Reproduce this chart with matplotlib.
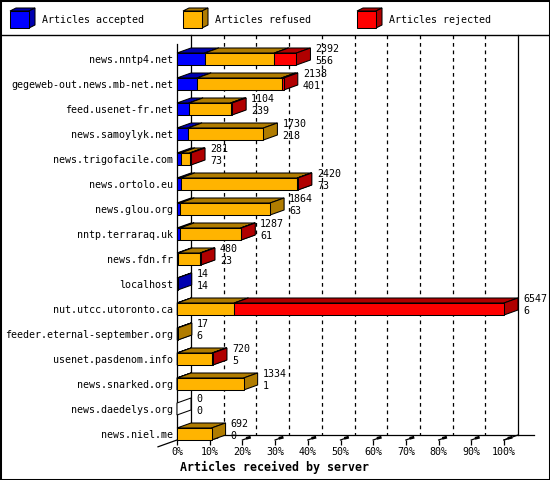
import matplotlib
matplotlib.use("Agg")
import matplotlib.pyplot as plt
from matplotlib.patches import Polygon, Rectangle
from matplotlib.lines import Line2D
from matplotlib.transforms import offset_copy

# ---------------- data ----------------
servers = [
    "news.nntp4.net", "gegeweb-out.news.mb-net.net", "feed.usenet-fr.net",
    "news.samoylyk.net", "news.trigofacile.com", "news.ortolo.eu",
    "news.glou.org", "nntp.terraraq.uk", "news.fdn.fr", "localhost",
    "nut.utcc.utoronto.ca", "feeder.eternal-september.org",
    "usenet.pasdenom.info", "news.snarked.org", "news.daedelys.org",
    "news.niel.me",
]
total = [2392, 2138, 1104, 1730, 281, 2420, 1864, 1287, 480, 14, 6547, 17, 720, 1334, 0, 692]
accepted = [556, 401, 239, 218, 73, 73, 63, 61, 23, 14, 6, 6, 5, 1, 0, 0]
refused = [1396, 1692, 835, 1512, 183, 2337, 1801, 1216, 442, 0, 1141, 11, 700, 1333, 0, 692]
rejected = [440, 45, 30, 0, 25, 10, 0, 10, 15, 0, 5400, 0, 15, 0, 0, 0]
series_names = ["Articles accepted", "Articles refused", "Articles rejected"]
tick_pcts = [0, 10, 20, 30, 40, 50, 60, 70, 80, 90, 100]
tick_labels = [f"{p}%" for p in tick_pcts]

front_cols = ["#0000FF", "#FFB400", "#FF0000"]
side_cols = ["#0000B0", "#B07C00", "#B00000"]

W, H = 550, 480
FONT = "DejaVu Sans Mono"
FS = 7.2

fig = plt.figure(figsize=(W / 100, H / 100), dpi=100)
fig.patch.set_facecolor("white")

def fx(x):
    return x / W

def fy(y):
    return 1 - y / H

# plot axes: front plane
ax = fig.add_axes([fx(177), 40 / H, 327 / W, 400 / H])
ax.set_xlim(0, 100)
n = len(servers)
ax.set_ylim(n - 1 + 0.24, -0.76)
ax.patch.set_alpha(0)
for s in ["top", "right", "bottom"]:
    ax.spines[s].set_visible(False)
ax.spines["left"].set_linewidth(0.9)
ax.spines["left"].set_bounds(n - 1 + 0.24, -0.6)

maxv = max(total)
px_x = 100 / 327.0   # data units per pixel horizontally
px_y = 1 / 25.0      # data units per pixel vertically
DX = 14 * px_x
DY = 5 * px_y
HH = 6 * px_y
top_wall = -0.96
floor_back = n - 1 + 0.04

# back walls and gridlines
ax.add_line(Line2D([DX, DX], [top_wall, floor_back], color="black", lw=0.9, clip_on=False, zorder=1))
ax.add_line(Line2D([100 + DX, 100 + DX], [top_wall, floor_back], color="black", lw=0.9, clip_on=False, zorder=1))
for p in tick_pcts[1:-1]:
    ax.add_line(Line2D([p + DX, p + DX], [top_wall, floor_back], color="black", lw=0.9,
                       linestyle=(0, (3, 3)), clip_on=False, zorder=1))
# floor
ax.add_line(Line2D([DX, 100 + DX + 16 * px_x], [floor_back, floor_back], color="black", lw=0.9, clip_on=False, zorder=1))
ax.add_line(Line2D([DX, -33 * px_x + DX], [floor_back, floor_back + 11.8 * px_y], color="black", lw=0.9, clip_on=False, zorder=1))
ax.add_line(Line2D([100 + DX, 100], [floor_back, floor_back + DY], color="black", lw=0.9, clip_on=False, zorder=1))
yf = n - 1 + 0.24
for p in tick_pcts[1:]:
    ax.add_line(Line2D([p, p + 7 * px_x], [yf, yf - 2.5 * px_y], color="black", lw=0.9, clip_on=False, zorder=1))
    ax.add_line(Line2D([p + 5 * px_x, p + 7 * px_x], [yf - 2 * px_y, yf - 2.5 * px_y], color="black", lw=2.0, clip_on=False, zorder=1))

# bars
lw = 0.75
for i in range(n):
    vals = [accepted[i], refused[i], rejected[i]]
    y0, y1 = i - HH, i + HH
    x0 = 0.0
    drawn = False
    for k, v in enumerate(vals):
        if v <= 0:
            continue
        w = v / maxv * 100
        x1 = x0 + w
        z = 3 + i * 0.01
        ax.add_patch(Polygon([(x0, y0), (x1, y0), (x1 + DX, y0 - DY), (x0 + DX, y0 - DY)],
                             closed=True, facecolor=side_cols[k], edgecolor="black", lw=lw, clip_on=False, zorder=z))
        ax.add_patch(Polygon([(x1, y0), (x1 + DX, y0 - DY), (x1 + DX, y1 - DY), (x1, y1)],
                             closed=True, facecolor=side_cols[k], edgecolor="black", lw=lw, clip_on=False, zorder=z))
        ax.add_patch(Rectangle((x0, y0), w, y1 - y0, facecolor=front_cols[k], edgecolor="black",
                               lw=lw, clip_on=False, zorder=z + 0.001))
        x0 = x1
        drawn = True
    if not drawn:
        ax.add_patch(Polygon([(0, y0), (DX, y0 - DY), (DX, y1 - DY), (0, y1)],
                             closed=True, facecolor="white", edgecolor="black", lw=lw, clip_on=False, zorder=3))
    xe = total[i] / maxv * 100 + DX
    tr = offset_copy(ax.transData, fig=fig, x=5, y=0, units="dots")
    ax.text(xe, i - 0.40, str(total[i]), transform=tr, ha="left", va="center",
            fontsize=FS, family=FONT, zorder=5, clip_on=False)
    ax.text(xe, i + 0.08, str(accepted[i]), transform=tr, ha="left", va="center",
            fontsize=FS, family=FONT, zorder=5, clip_on=False)

ax.set_yticks(range(n))
ax.set_yticklabels(servers, family=FONT, fontsize=FS)
ax.tick_params(axis="y", length=0, pad=2.9)
ax.set_xticks(tick_pcts)
ax.set_xticklabels(tick_labels, family=FONT, fontsize=FS)
ax.tick_params(axis="x", length=3.6, width=0.9, pad=1.5, direction="out")

fig.text(fx(180), fy(467), "Articles received by server", family=FONT, fontsize=8.4,
         fontweight="bold", ha="left", va="center")

# legend area
fig.add_artist(Line2D([0, 1], [fy(35), fy(35)], color="black", lw=1.0, transform=fig.transFigure))
fig.add_artist(Rectangle((0, 0), 1, 1, transform=fig.transFigure, fill=False, edgecolor="black", lw=2.2))
leg_x = [10, 183, 357]
for k in range(3):
    lx = leg_x[k]
    fw, fh = 19, 17
    ldx, ldy = 6, 3
    top, bot = 11, 11 + fh
    fig.add_artist(Polygon([(fx(lx), fy(top)), (fx(lx + fw), fy(top)), (fx(lx + fw + ldx), fy(top - ldy)), (fx(lx + ldx), fy(top - ldy))],
                           closed=True, facecolor=side_cols[k], edgecolor="black", lw=0.75, transform=fig.transFigure))
    fig.add_artist(Polygon([(fx(lx + fw), fy(top)), (fx(lx + fw + ldx), fy(top - ldy)), (fx(lx + fw + ldx), fy(bot - ldy)), (fx(lx + fw), fy(bot))],
                           closed=True, facecolor=side_cols[k], edgecolor="black", lw=0.75, transform=fig.transFigure))
    fig.add_artist(Rectangle((fx(lx), fy(bot)), fw / W, fh / H, facecolor=front_cols[k], edgecolor="black",
                             lw=0.75, transform=fig.transFigure))
    fig.text(fx(lx + 32), fy(20), series_names[k], family=FONT, fontsize=FS, ha="left", va="center")

fig.savefig("out.png", dpi=100)
